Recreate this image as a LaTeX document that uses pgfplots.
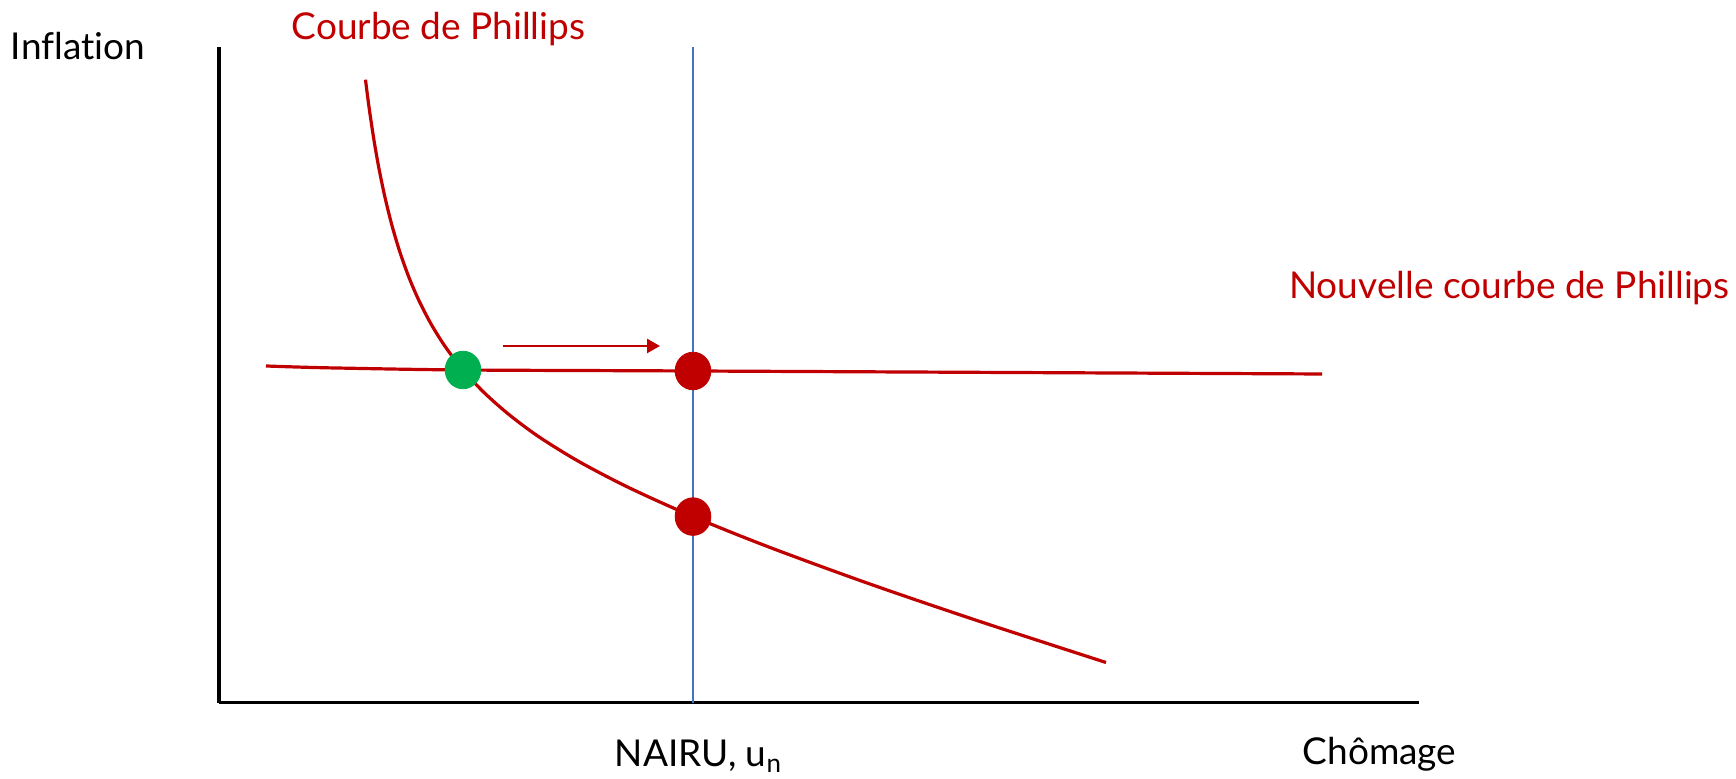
\documentclass[border=0pt]{standalone}
\usepackage{pgfplots}
\pgfplotsset{compat=1.18}
\usepackage{fontspec}
\setmainfont{Lato}[Ligatures={NoCommon,NoRare}]
\usetikzlibrary{arrows.meta}
\definecolor{pred}{HTML}{C00000}
\definecolor{pgreen}{HTML}{00B050}
\definecolor{pblue}{HTML}{4472C4}
\begin{document}
\begin{tikzpicture}
\begin{axis}[
  scale only axis,
  width=600pt, height=327.85pt,
  xmin=0, xmax=1200, ymin=0, ymax=655.7,
  axis lines=left,
  axis line style={-, line width=1.8pt, black},
  xtick=\empty, ytick=\empty,
  clip=false,
]
% NAIRU vertical line
\addplot[pblue, line width=1.2pt] coordinates {(473.7,0) (473.7,655.7)};
% Phillips curve
\addplot[pred, line width=1.6pt, smooth] coordinates {
 (146.5,623.0) (150,595.7) (155,562.4) (160,534.0) (166,505.3) (173,477.1)
 (181,450.3) (190,425.2) (200,402.0) (212,378.8) (226,356.4) (244,332.7)
 (265,310.2) (290,288.1) (320,265.8) (360,241.1) (410,215.0) (474,186.1)
 (550,155.6) (650,119.0) (760,81.5) (887,40.2)};
% New Phillips curve
\addplot[pred, line width=1.6pt, smooth] coordinates {
 (47,336.7) (80,335.6) (122,334.6) (244,332.7) (474,331.7) (1103,328.7)};
% arrow
\addplot[pred, line width=1.2pt, -{Triangle[length=6.5pt,width=7pt]}] coordinates {(284,356.7) (441,356.7)};
% points
\addplot[only marks, mark=*, mark size=9.4pt, pgreen, mark options={draw=pgreen, fill=pgreen, xscale=0.95}] coordinates {(244,332.7)};
\addplot[only marks, mark=*, mark size=9.4pt, pred, mark options={draw=pred, fill=pred, xscale=0.95}] coordinates {(474,331.7) (474,186.1)};
% labels
\node[anchor=base, inner sep=0pt, font=\fontsize{18.5}{22}\selectfont] at (axis cs:-141,642.7) {Inflation};
\node[anchor=base, inner sep=0pt, text=pred, font=\fontsize{18.5}{22}\selectfont] at (axis cs:219.5,662.7) {Courbe de Phillips};
\node[anchor=base east, inner sep=0pt, text=pred, font=\fontsize{18.5}{22}\selectfont] at (axis cs:1511,403.7) {Nouvelle courbe de Phillips};
\node[anchor=base, inner sep=0pt, font=\fontsize{18.5}{22}\selectfont] at (axis cs:479.5,-64.3) {NAIRU, u\textsubscript{n}};
\node[anchor=base, inner sep=0pt, font=\fontsize{18.5}{22}\selectfont] at (axis cs:1160.5,-62.3) {Chômage};
\path (axis cs:-219,-76.3) rectangle (axis cs:1517,702.7);
\end{axis}
\end{tikzpicture}
\end{document}
